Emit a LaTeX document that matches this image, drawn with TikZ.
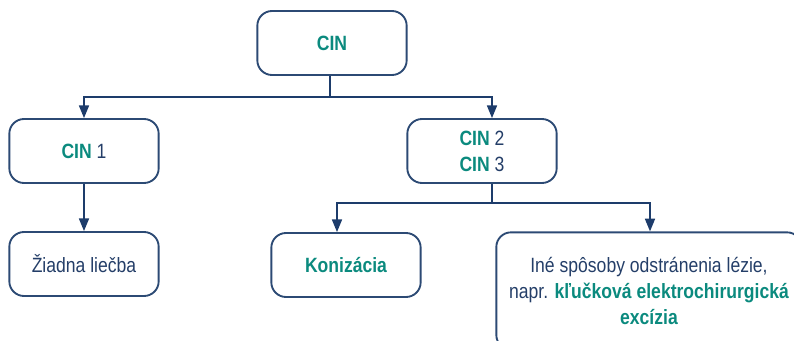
\documentclass[tikz,border=0pt]{standalone}
\usepackage{fontspec}
\setmainfont[FakeStretch=0.85]{Liberation Sans}
\usetikzlibrary{arrows.meta}
\definecolor{navy}{HTML}{1D3C6B}
\definecolor{boxline}{HTML}{2C4A74}
\definecolor{teal}{HTML}{0B8A7E}
\definecolor{txt}{HTML}{243E68}
\newcommand{\hl}[1]{\textbf{\textcolor{teal}{#1}}}
\tikzset{
  stepbox/.style={draw=boxline,line width=1.4pt,rounded corners=11pt,
    minimum width=112pt,minimum height=48pt,align=center,text=txt,
    font=\fontsize{15.5}{19.5}\selectfont},
  link/.style={draw=navy,line width=1.2pt},
  arr/.style={link,-{Triangle[width=7.5pt,length=9.5pt]}}
}
\begin{document}
\begin{tikzpicture}[x=0.75pt,y=-0.75pt]
      \useasboundingbox (0,0) rectangle (794,340);
      \begin{scope}
        \clip (0,0) rectangle (794,340);

        % boxes
        \node[stepbox] (cin) at (332,43) {\hl{CIN}};
        \node[stepbox] (cin1) at (84,151) {\hl{CIN} 1};
        \node[stepbox] (cin23) at (482,151) {\hl{CIN} 2\\\hl{CIN} 3};
        \node[stepbox] (none) at (84,264) {Žiadna liečba};
        \node[stepbox] (kon) at (346,265) {\hl{Konizácia}};
        \node[stepbox,minimum width=229pt,minimum height=88pt] (ine) at (649,291)
          {Iné spôsoby odstránenia lézie,\\napr. \hl{kľučková elektrochirurgická}\\\hl{excízia}};

        % connectors
        \draw[link] ([xshift=-1.5pt]cin.south) -- ++(0,21) coordinate (j1);
        \draw[arr] (j1) -| (cin1.north);
        \draw[arr] (j1) -| ([xshift=7.5pt]cin23.north);
        \draw[arr] (cin1) -- (none);
        \draw[link] ([xshift=7.5pt]cin23.south) -- ++(0,19) coordinate (j2);
        \draw[arr] (j2) -| ([xshift=-6.75pt]kon.north);
        \draw[arr] (j2) -| ([xshift=0.75pt]ine.north);
      \end{scope}
    \end{tikzpicture}
\end{document}
